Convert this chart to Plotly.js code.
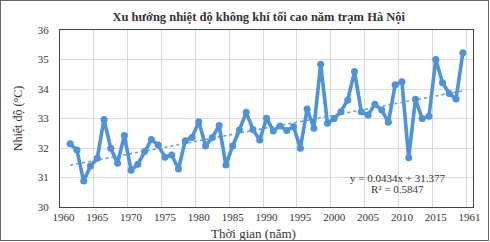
<!DOCTYPE html>
<html>
<head>
<meta charset="utf-8">
<script src="https://cdn.plot.ly/plotly-3.0.1.min.js"></script>
<style>
html,body{margin:0;padding:0;background:#fff;}
#wrap{position:relative;width:490px;height:242px;}
#chart{width:490px;height:242px;}
#frame{position:absolute;left:0;top:0;width:487px;height:239px;border:1.5px solid #666;pointer-events:none;}
</style>
</head>
<body>
<div id="wrap"><div id="chart"></div><div id="frame"></div></div>
<script>
// Data
const years = [1961,1962,1963,1964,1965,1966,1967,1968,1969,1970,
  1971,1972,1973,1974,1975,1976,1977,1978,1979,1980,
  1981,1982,1983,1984,1985,1986,1987,1988,1989,1990,
  1991,1992,1993,1994,1995,1996,1997,1998,1999,2000,
  2001,2002,2003,2004,2005,2006,2007,2008,2009,2010,
  2011,2012,2013,2014,2015,2016,2017,2018,2019];
const tmax = [32.14,31.93,30.88,31.39,31.65,32.97,31.99,31.48,32.42,31.25,
  31.45,31.88,32.29,32.10,31.69,31.76,31.29,32.25,32.36,32.89,
  32.07,32.36,32.76,31.42,32.07,32.61,33.21,32.63,32.27,33.01,
  32.58,32.75,32.59,32.72,31.99,33.32,32.67,34.84,32.84,33.00,
  33.23,33.63,34.59,33.23,33.12,33.48,33.29,32.87,34.14,34.25,
  31.67,33.65,33.00,33.08,35.00,34.21,33.85,33.66,35.23];
// Trendline coefficients as printed on the chart
const trendSlope = 0.0434;
const trendIntercept = 31.377;
const trendText = ["y = 0.0434x + 31.377", "R² = 0.5847"];
// Tick labels
const xTickVals = [1960,1965,1970,1975,1980,1985,1990,1995,2000,2005,2010,2015,2020];
const xTickText = ["1960","1965","1970","1975","1980","1985","1990","1995","2000","2005","2010","2015","1961"];
const yTickVals = [30,31,32,33,34,35,36];

const trendY = years.map((y,i)=> trendSlope*(i+1) + trendIntercept);

const serif = "Liberation Serif, Times New Roman, serif";
const data = [
  {x: years, y: trendY, type:'scatter', mode:'lines',
   line:{color:'#6a9fd0', width:1.6, dash:'dot'}, hoverinfo:'skip'},
  {x: years, y: tmax, type:'scatter', mode:'lines+markers',
   line:{color:'#4d92da', width:3.6}, marker:{color:'#4d92da', size:7}}
];
const layout = {
  width:490, height:242,
  margin:{l:60, r:17, t:30, b:35},
  paper_bgcolor:'#fff', plot_bgcolor:'#fff',
  showlegend:false,
  font:{family:serif, color:'#333', size:11},
  title:{text:'<b>Xu hướng nhiệt độ không khí tối cao năm trạm Hà Nội</b>',
    font:{family:serif, size:12.5, color:'#333'},
    x:0.528, xanchor:'center', y:1-17/242, yref:'container', yanchor:'middle'},
  xaxis:{range:[1959.5,2020.5], tickvals:xTickVals, ticktext:xTickText,
    showgrid:false, zeroline:false, showline:true, linecolor:'#444', linewidth:1, mirror:true,
    ticks:'', tickfont:{family:serif, size:11, color:'#333'},
    minor:{tick0:1959.5, dtick:5, showgrid:true, gridcolor:'#d9d9d9', gridwidth:1, ticks:''},
    automargin:false},
  yaxis:{range:[30,36], tickvals:yTickVals, showgrid:true, gridcolor:'#d9d9d9', gridwidth:1,
    zeroline:false, showline:true, linecolor:'#444', linewidth:1, mirror:true,
    ticks:'', ticklabelstandoff:8, tickfont:{family:serif, size:11, color:'#333'},
    title:{text:'Nhiệt độ (°C)', font:{family:serif, size:12, color:'#333'}, standoff:12},
    automargin:false},
  annotations:[
    {text:'Thời gian (năm)', xref:'paper', yref:'paper', x:(253-60)/413, y:-(233-207)/177,
     showarrow:false, xanchor:'center', yanchor:'middle', font:{family:serif, size:13, color:'#333'}},
    {text:trendText[0], xref:'paper', yref:'paper', x:(397-60)/413, y:(207-177.5)/177,
     showarrow:false, xanchor:'center', yanchor:'middle', font:{family:serif, size:11, color:'#333'}},
    {text:trendText[1], xref:'paper', yref:'paper', x:(397-60)/413, y:(207-189)/177,
     showarrow:false, xanchor:'center', yanchor:'middle', font:{family:serif, size:11, color:'#333'}}
  ]
};
Plotly.newPlot('chart', data, layout, {displayModeBar:false, staticPlot:true});
</script>
</body>
</html>
